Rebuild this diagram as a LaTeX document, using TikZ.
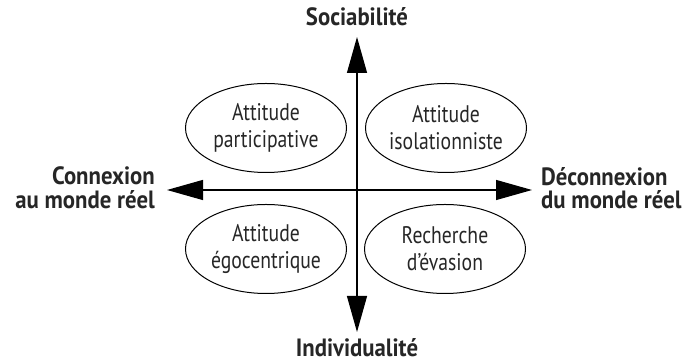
\documentclass[tikz,border=0pt]{standalone}
\usepackage{fontspec}
\setmainfont{PT Sans}[FakeStretch=0.82]
\newfontfamily\polefont{PT Sans}[FakeStretch=0.91]
\usetikzlibrary{arrows.meta,shapes.geometric}
\begin{document}
\begin{tikzpicture}[x=1pt,y=1pt,
  axis/.style={line width=1.2pt, -{Triangle[length=36pt,width=20pt]}},
  attitude/.style={ellipse, draw, line width=1pt, minimum width=161pt,
    minimum height=89pt, inner sep=0pt, align=center, text=black!85,
    font=\fontsize{24}{27}\selectfont},
  pole/.style={inner sep=0pt, text=black!85,
    font=\polefont\bfseries\fontsize{25}{23.5}\selectfont}]
\useasboundingbox (0,0) rectangle (689,363);

% axes
\coordinate (O) at (357,173);
\coordinate (N) at (357,326);
\coordinate (S) at (357,31);
\coordinate (W) at (167,173);
\coordinate (E) at (532,173);
\draw[axis] (O) -- (N);
\draw[axis] (O) -- (S);
\draw[axis] (O) -- (W);
\draw[axis] (O) -- (E);

% quadrants
\node[attitude] (tl) at (266,235) {Attitude\\participative};
\node[attitude] (tr) at (446,235) {Attitude\\isolationniste};
\node[attitude] (bl) at (266,114) {Attitude\\égocentrique};
\node[attitude] (br) at (445,114) {Recherche\\d’évasion};

% poles
\node[pole, anchor=base] (soc) at (357,337) {Sociabilité};
\node[pole, anchor=base] (ind) at (357,6) {Individualité};
\node[pole, anchor=east, align=right] (con) at (155,175) {Connexion\\au monde réel};
\node[pole, anchor=west, align=left] (dec) at (541,175) {Déconnexion\\du monde réel};
\end{tikzpicture}
\end{document}
